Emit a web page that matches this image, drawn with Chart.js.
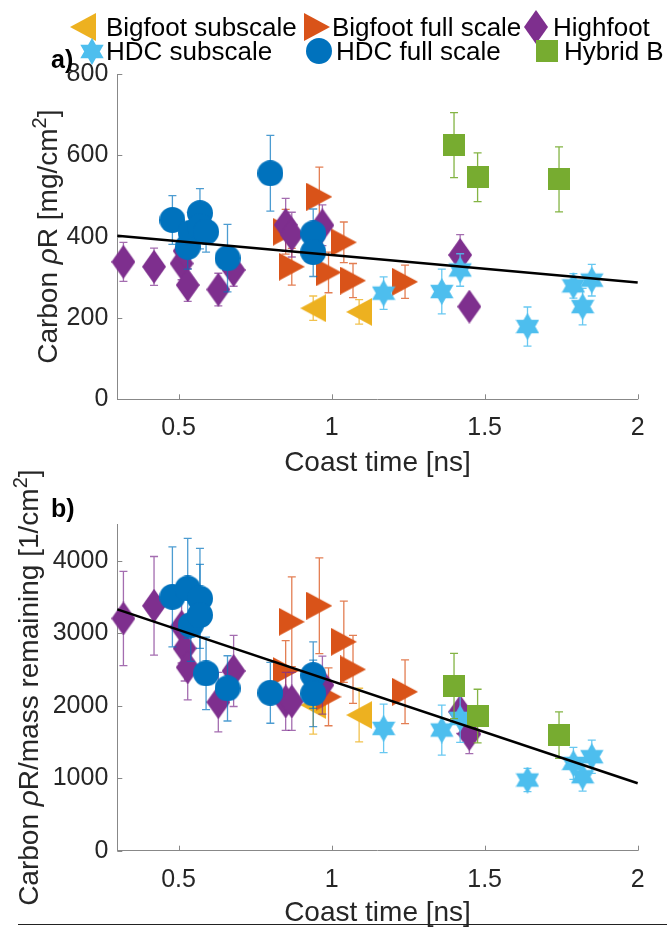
<!DOCTYPE html>
<html><head><meta charset="utf-8">
<script src="https://cdn.jsdelivr.net/npm/chart.js@4.4.1/dist/chart.umd.min.js"></script>
<style>
html,body{margin:0;padding:0;background:#fff;overflow:hidden;width:667px;height:927px;}
#wrap{position:relative;width:667px;height:927px;font-family:"Liberation Sans",Arial,sans-serif;}
canvas.ch{position:absolute;left:0;}
#cA{top:0;}
#cB{top:460px;}
.leg{position:absolute;font-size:26px;color:#000;white-space:nowrap;line-height:26px;height:26px;}
.icon{position:absolute;}
.lab{position:absolute;font-weight:bold;font-size:25px;color:#000;line-height:26px;}
#bline{position:absolute;left:18px;width:649px;top:924px;height:0;border-top:1.5px solid #222;}
</style></head>
<body><div id="wrap">
<canvas id="cA" class="ch" width="667" height="480"></canvas>
<canvas id="cB" class="ch" width="667" height="470"></canvas>
<div id="legend"></div>
<div class="lab" style="left:51px;top:46px;">a)</div>
<div class="lab" style="left:51px;top:495px;">b)</div>
<div id="bline"></div>
</div>
<script>
// ---------- data ----------
const xTicks = [0.5, 1, 1.5, 2];
const yTicksTop = [0, 200, 400, 600, 800];
const yTicksBot = [0, 1000, 2000, 3000, 4000];

const seriesNames = ['Bigfoot subscale', 'Bigfoot full scale', 'Highfoot', 'HDC subscale', 'HDC full scale', 'Hybrid B'];

// Bigfoot subscale
const bsX = [0.94, 1.09];
const bsTop = [224, 215];
const bsTopErr = [30, 30];
const bsBot = [2010, 1872];
const bsBotErr = [400, 370];

// Bigfoot full scale
const bfX = [0.85, 0.87, 0.96, 0.99, 1.04, 1.07, 1.24];
const bfTop = [412, 326, 498, 312, 386, 292, 289];
const bfTopErr = [55, 45, 73, 50, 50, 42, 41];
const bfBot = [2480, 3159, 3380, 2124, 2883, 2502, 2193];
const bfBotErr = [420, 620, 660, 400, 560, 470, 440];

// Highfoot
const hfX = [0.32, 0.42, 0.51, 0.52, 0.53, 0.63, 0.68, 0.85, 0.87, 0.97, 1.42, 1.45];
const hfTop = [338, 326, 334, 365, 281, 270, 318, 429, 405, 428, 355, 228];
const hfTopErr = [48, 46, 40, 40, 40, 40, 40, 65, 55, 50, 50, 20];
const hfBot = [3205, 3380, 3090, 2792, 2530, 2050, 2480, 2060, 2060, 2286, 1917, 1610];
const hfBotErr = [650, 680, 500, 450, 450, 410, 490, 400, 400, 400, 300, 270];

// HDC subscale
const hsX = [1.17, 1.36, 1.42, 1.64, 1.79, 1.82, 1.85];
const hsTop = [261, 265, 318, 179, 279, 228, 293];
const hsTopErr = [40, 55, 40, 48, 30, 45, 39];
const hsBot = [1688, 1665, 1826, 975, 1205, 1021, 1297];
const hsBotErr = [335, 345, 330, 160, 220, 200, 230];

// HDC full scale
const hdX = [0.48, 0.53, 0.54, 0.57, 0.57, 0.59, 0.66, 0.80, 0.94, 0.94];
const hdTop = [441, 375, 410, 458, 425, 412, 347, 556, 408, 362];
const hdTopErr = [60, 55, 50, 60, 55, 50, 83, 93, 60, 60];
const hdBot = [3503, 3619, 3113, 3481, 3251, 2447, 2240, 2179, 2423, 2171];
const hdBotErr = [690, 690, 500, 690, 700, 500, 450, 420, 460, 460];

// Hybrid B
const hbX = [1.40, 1.477, 1.743];
const hbTop = [625, 546, 541];
const hbTopErr = [80, 60, 80];
const hbBot = [2272, 1858, 1596];
const hbBotErr = [450, 370, 320];

// linear fits
const fitX = [0.3, 2];
const fitTop = [402, 287];
const fitBot = [3330, 930];

const xTitle = 'Coast time [ns]';
const yTitleTop = [['Carbon ', 'n'], ['ρ', 'i'], ['R [mg/cm', 'n'], ['2', 's'], [']', 'n']];
const yTitleBot = [['Carbon ', 'n'], ['ρ', 'i'], ['R/mass remaining [1/cm', 'n'], ['2', 's'], [']', 'n']];

// ---------- styling ----------
const FONT = "'Liberation Sans', Arial, sans-serif";
const colors = ['#EDB120', '#D95319', '#7E2F8E', '#4DBEEE', '#0072BD', '#77AC30'];
const errColors = ['rgba(237,177,32,0.8)', 'rgba(217,83,25,0.75)', 'rgba(126,47,142,0.7)', 'rgba(77,190,238,0.85)', 'rgba(0,114,189,0.7)', 'rgba(119,172,48,0.9)'];
const shapes = ['left', 'right', 'diamond', 'hexagram', 'circle', 'square'];
const sizes = [[26, 28], [26, 28], [24, 34], [24, 27], [26, 26], [22, 22]];

function makeMarker(shape, color, w, h) {
  const c = document.createElement('canvas');
  c.width = w; c.height = h;
  const g = c.getContext('2d');
  g.fillStyle = color;
  g.beginPath();
  if (shape === 'circle') g.arc(w / 2, h / 2, Math.min(w, h) / 2, 0, 2 * Math.PI);
  else if (shape === 'square') g.rect(0, 0, w, h);
  else if (shape === 'diamond') { g.moveTo(w / 2, 0); g.lineTo(w, h / 2); g.lineTo(w / 2, h); g.lineTo(0, h / 2); g.closePath(); }
  else if (shape === 'left') { g.moveTo(0, h / 2); g.lineTo(w, 0); g.lineTo(w, h); g.closePath(); }
  else if (shape === 'right') { g.moveTo(w, h / 2); g.lineTo(0, 0); g.lineTo(0, h); g.closePath(); }
  else if (shape === 'hexagram') {
    const cx = w / 2, cy = h / 2, R = h / 2;
    for (let k = 0; k < 2; k++) {
      const a0 = k ? Math.PI / 2 : -Math.PI / 2;
      for (let i = 0; i < 3; i++) {
        const a = a0 + i * 2 * Math.PI / 3;
        const x = cx + R * Math.cos(a), y = cy + R * Math.sin(a);
        if (i) g.lineTo(x, y); else g.moveTo(x, y);
      }
      g.closePath();
    }
  }
  g.fill();
  return c;
}
const markers = shapes.map((s, i) => makeMarker(s, colors[i], sizes[i][0], sizes[i][1]));

// ---------- plugins ----------
const errorBars = {
  id: 'errorBars',
  beforeDatasetDraw(chart, args) {
    const ds = chart.data.datasets[args.index];
    if (!ds.errors) return;
    const { ctx, scales: { x, y } } = chart;
    ctx.save();
    ctx.strokeStyle = ds.errColor; ctx.lineWidth = 1.3;
    ds.data.forEach((p, i) => {
      const e = ds.errors[i];
      const px = x.getPixelForValue(p.x);
      const y1 = y.getPixelForValue(p.y + e), y2 = y.getPixelForValue(p.y - e);
      ctx.beginPath();
      ctx.moveTo(px, y1); ctx.lineTo(px, y2);
      ctx.moveTo(px - 4, y1); ctx.lineTo(px + 4, y1);
      ctx.moveTo(px - 4, y2); ctx.lineTo(px + 4, y2);
      ctx.stroke();
    });
    ctx.restore();
  }
};
const innerTicks = {
  id: 'innerTicks',
  afterDraw(chart) {
    const { ctx, chartArea: a, scales: { x, y } } = chart;
    ctx.save();
    ctx.strokeStyle = '#888'; ctx.lineWidth = 1;
    ctx.beginPath();
    x.ticks.forEach(t => { const px = Math.round(x.getPixelForValue(t.value)) + 0.5; ctx.moveTo(px, a.bottom); ctx.lineTo(px, a.bottom - 5); });
    y.ticks.forEach(t => { const py = Math.round(y.getPixelForValue(t.value)) + 0.5; ctx.moveTo(a.left, py); ctx.lineTo(a.left + 5, py); });
    ctx.stroke();
    ctx.restore();
  }
};
const richTitle = {
  id: 'richTitle',
  afterDraw(chart, args, opts) {
    const segs = opts.segments; if (!segs) return;
    const { ctx, chartArea } = chart;
    const fonts = { n: '28px ' + FONT, i: 'italic 28px ' + FONT, s: '20px ' + FONT };
    ctx.save();
    const cy = (chartArea.top + chartArea.bottom) / 2;
    ctx.translate(opts.x, cy); ctx.rotate(-Math.PI / 2);
    let total = 0;
    const ws = segs.map(s => { ctx.font = fonts[s[1]]; const w = ctx.measureText(s[0]).width; total += w; return w; });
    let cx = -total / 2;
    ctx.fillStyle = '#262626'; ctx.textBaseline = 'alphabetic'; ctx.textAlign = 'left';
    segs.forEach((s, i) => { ctx.font = fonts[s[1]]; ctx.fillText(s[0], cx, s[1] === 's' ? -11 : 0); cx += ws[i]; });
    ctx.restore();
  }
};

// ---------- charts ----------
function pts(xs, ys) { return xs.map((x, i) => ({ x: x, y: ys[i] })); }

function makeChart(id, cfg) {
  const sets = [
    [bsX, cfg.top ? bsTop : bsBot, cfg.top ? bsTopErr : bsBotErr],
    [bfX, cfg.top ? bfTop : bfBot, cfg.top ? bfTopErr : bfBotErr],
    [hfX, cfg.top ? hfTop : hfBot, cfg.top ? hfTopErr : hfBotErr],
    [hsX, cfg.top ? hsTop : hsBot, cfg.top ? hsTopErr : hsBotErr],
    [hdX, cfg.top ? hdTop : hdBot, cfg.top ? hdTopErr : hdBotErr],
    [hbX, cfg.top ? hbTop : hbBot, cfg.top ? hbTopErr : hbBotErr]
  ];
  const datasets = sets.map((s, i) => ({
    type: 'scatter',
    label: seriesNames[i],
    data: pts(s[0], s[1]),
    errors: s[2],
    errColor: errColors[i],
    pointStyle: markers[i],
    pointRadius: 13,
    backgroundColor: colors[i],
    borderColor: colors[i],
    order: 6 - i,
    clip: false
  }));
  datasets.push({
    type: 'line',
    label: 'fit',
    data: pts(fitX, cfg.top ? fitTop : fitBot),
    borderColor: '#000',
    borderWidth: 2.5,
    pointRadius: 0,
    order: 0,
    clip: false
  });
  return new Chart(document.getElementById(id), {
    data: { datasets },
    options: {
      responsive: false,
      animation: false,
      events: [],
      layout: { padding: { top: cfg.padTop, right: 29.3, left: 0, bottom: 0 } },
      plugins: { legend: { display: false }, tooltip: { enabled: false }, richTitle: { segments: cfg.yTitle, x: cfg.titleX } },
      scales: {
        x: {
          type: 'linear', min: 0.3, max: 2,
          afterBuildTicks: s => { s.ticks = xTicks.map(v => ({ value: v })); },
          afterFit: s => { s.height = cfg.xh; },
          grid: { display: true, drawOnChartArea: false, drawTicks: false },
          border: { display: true, color: '#888', width: 1 },
          ticks: { color: '#262626', font: { size: 25, family: FONT }, padding: 14, maxRotation: 0, autoSkip: false, callback: v => String(v) },
          title: { display: true, text: xTitle, color: '#262626', font: { size: 28, family: FONT }, padding: { top: 0, bottom: 0 } }
        },
        y: {
          type: 'linear', min: 0, max: cfg.ymax,
          afterBuildTicks: s => { s.ticks = cfg.yTicks.map(v => ({ value: v })); },
          afterFit: s => { s.width = 117.3; },
          grid: { display: true, drawOnChartArea: false, drawTicks: false },
          border: { display: true, color: '#888', width: 1 },
          ticks: { color: '#262626', font: { size: 25, family: FONT }, padding: 9, autoSkip: false, callback: v => String(v) }
        }
      }
    },
    plugins: [errorBars, innerTicks, richTitle]
  });
}

makeChart('cA', { top: true, ymax: 800, yTicks: yTicksTop, padTop: 74, xh: 80.7, yTitle: yTitleTop, titleX: 57 });
makeChart('cB', { top: false, ymax: 4500, yTicks: yTicksBot, padTop: 64.6, xh: 79.3, yTitle: yTitleBot, titleX: 38 });

// ---------- legend ----------
const legendPos = [
  { cx: 83, cy: 27, tx: 106 }, { cx: 317, cy: 27, tx: 332 }, { cx: 536, cy: 27, tx: 553 },
  { cx: 92, cy: 51, tx: 106 }, { cx: 319, cy: 51, tx: 336 }, { cx: 547, cy: 51, tx: 564 }
];
const lg = document.getElementById('legend');
seriesNames.forEach((name, i) => {
  const p = legendPos[i];
  const m = makeMarker(shapes[i], colors[i], sizes[i][0], sizes[i][1]);
  m.className = 'icon';
  m.style.left = (p.cx - sizes[i][0] / 2) + 'px';
  m.style.top = (p.cy - sizes[i][1] / 2) + 'px';
  lg.appendChild(m);
  const t = document.createElement('div');
  t.className = 'leg';
  t.textContent = name;
  t.style.left = p.tx + 'px';
  t.style.top = (p.cy - 13) + 'px';
  lg.appendChild(t);
});
</script>
</body></html>
